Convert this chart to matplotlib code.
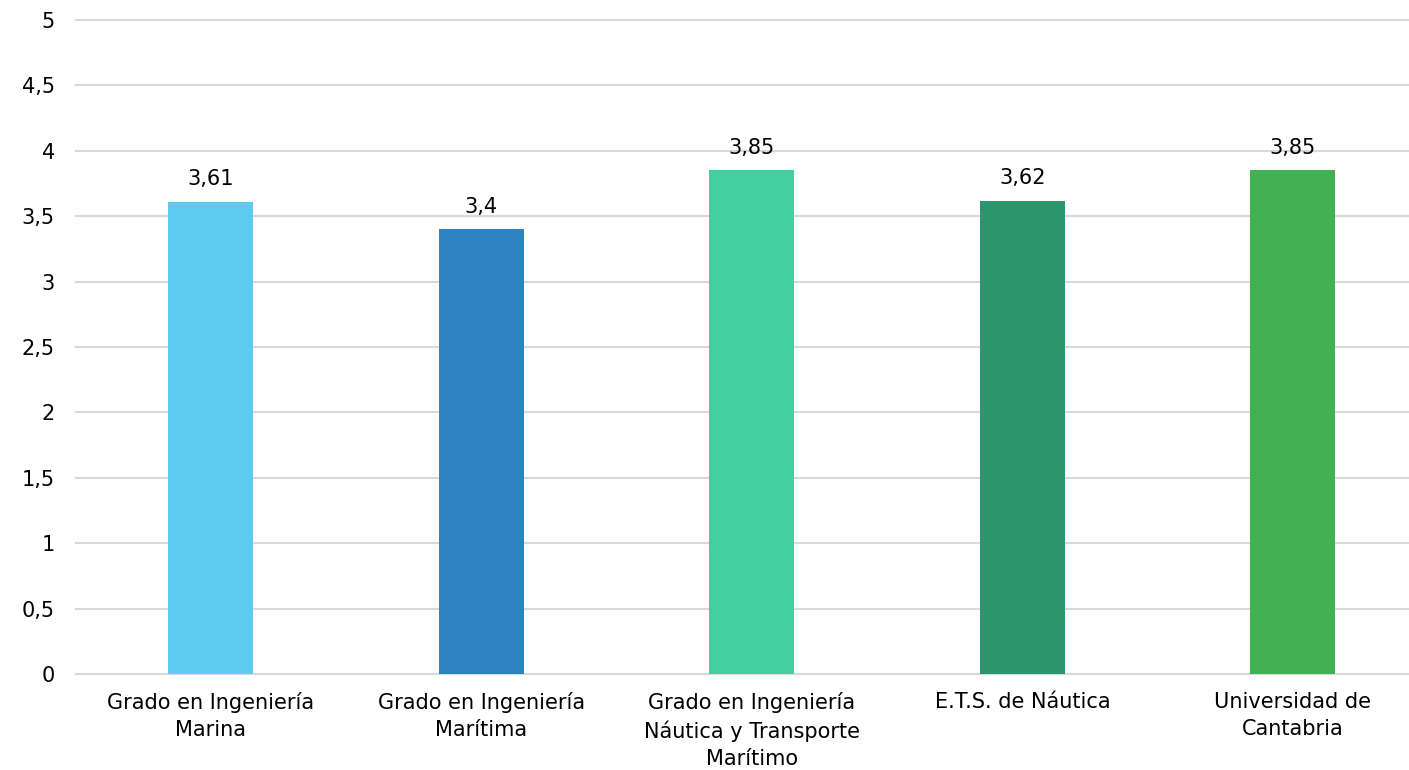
import matplotlib.pyplot as plt

categories = ['Grado en Ingeniería\nMarina',
              'Grado en Ingeniería\nMarítima',
              'Grado en Ingeniería\nNáutica y Transporte\nMarítimo',
              'E.T.S. de Náutica',
              'Universidad de\nCantabria']
values = [3.61, 3.4, 3.85, 3.62, 3.85]
value_labels = ['3,61', '3,4', '3,85', '3,62', '3,85']
colors = ['#5FCBEF', '#2E83C3', '#42D0A0', '#2E966C', '#42B153']
yticks = [0, 0.5, 1, 1.5, 2, 2.5, 3, 3.5, 4, 4.5, 5]
ytick_labels = ['0', '0,5', '1', '1,5', '2', '2,5', '3', '3,5', '4', '4,5', '5']

plt.rcParams['font.family'] = ['DejaVu Sans']

fig = plt.figure(figsize=(14.09, 7.70), dpi=100)
ax = fig.add_axes([0.0537, 0.1247, 0.9598, 0.8493])

x = list(range(len(categories)))
bars = ax.bar(x, values, width=0.314, color=colors, zorder=3)

for b, lab in zip(bars, value_labels):
	ax.annotate(lab, (b.get_x() + b.get_width() / 2, b.get_height()),
		xytext=(0, 9), textcoords='offset points', ha='center', va='bottom',
		fontsize=15, color='black')

ax.set_xlim(-0.5, 4.5)
ax.set_ylim(0, 5)
ax.set_yticks(yticks)
ax.set_yticklabels(ytick_labels, fontsize=15, color='black')
ax.set_xticks(x)
ax.set_xticklabels(categories, fontsize=15, color='black', linespacing=1.42)

ax.grid(axis='y', color='#D9D9D9', linewidth=1.5, zorder=0)
for gl in ax.yaxis.get_gridlines():
	gl.set_clip_on(False)
for s in ['top', 'right', 'left']:
	ax.spines[s].set_visible(False)
ax.spines['bottom'].set_color('#D9D9D9')
ax.spines['bottom'].set_linewidth(1.5)
ax.tick_params(axis='both', length=0)
ax.tick_params(axis='y', pad=15)
ax.tick_params(axis='x', pad=13)

fig.savefig('out.png', dpi=100)
